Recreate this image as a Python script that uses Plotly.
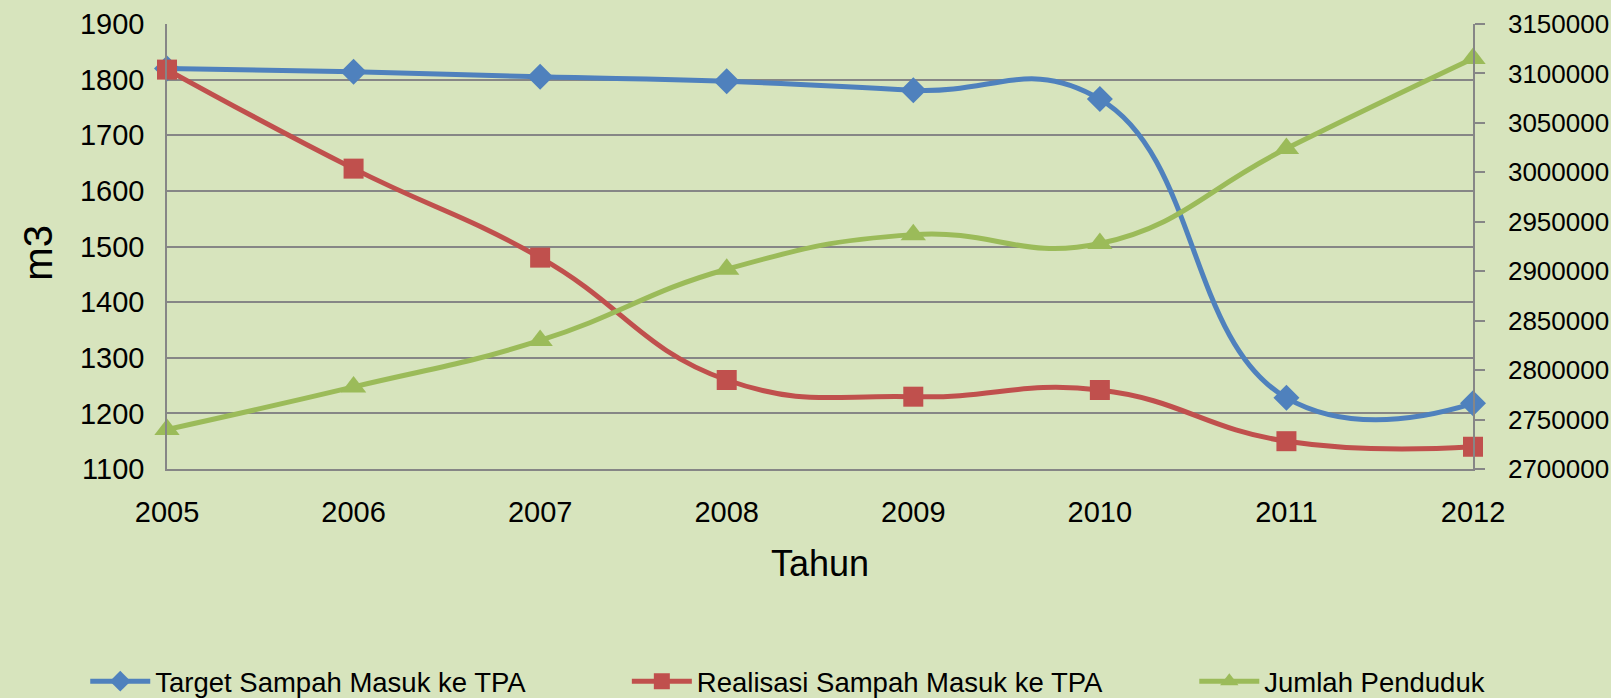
import plotly.graph_objects as go

years = [2005, 2006, 2007, 2008, 2009, 2010, 2011, 2012]
year_labels = [str(y) for y in years]
target = [1820, 1814, 1805, 1797, 1781, 1765, 1228, 1218]
realisasi = [1818, 1640, 1480, 1260, 1230, 1242, 1150, 1140]
penduduk = [2740000, 2783000, 2830000, 2902000, 2937000, 2928000, 3024000, 3115000]

BG = "#D7E4BD"
GRID = "#868686"
FONT = "Liberation Sans, Arial, sans-serif"

fig = go.Figure()
fig.add_trace(go.Scatter(
    x=years, y=target, name="Target Sampah Masuk ke TPA", mode="lines+markers",
    line=dict(color="#4F81BD", width=5, shape="spline", smoothing=1.3),
    marker=dict(symbol="diamond", size=20, color="#4F81BD"), cliponaxis=False,
    legend="legend"))
fig.add_trace(go.Scatter(
    x=years, y=realisasi, name="Realisasi Sampah Masuk ke TPA", mode="lines+markers",
    line=dict(color="#C0504D", width=5, shape="spline", smoothing=1.3),
    marker=dict(symbol="square", size=20, color="#C0504D"), cliponaxis=False,
    legend="legend2"))
fig.add_trace(go.Scatter(
    x=years, y=penduduk, name="Jumlah Penduduk", mode="lines+markers", yaxis="y2",
    line=dict(color="#9BBB59", width=5, shape="spline", smoothing=1.3),
    marker=dict(symbol="triangle-up", size=22, color="#9BBB59"), cliponaxis=False,
    legend="legend3"))

leg_common = dict(orientation="h", y=-0.477, yanchor="middle", xanchor="left",
                  font=dict(family=FONT, size=27.5), bgcolor="rgba(0,0,0,0)", itemwidth=60)

fig.update_layout(
    width=1611, height=698,
    margin=dict(l=167, r=138, t=24, b=229, autoexpand=False),
    paper_bgcolor=BG, plot_bgcolor=BG,
    font=dict(family=FONT, color="black", size=29),
    xaxis=dict(range=[2005, 2012], tickvals=years, ticktext=year_labels,
               showgrid=False, showline=True, linecolor=GRID, linewidth=1.5,
               ticks="", ticklabelstandoff=16, zeroline=False,
               tickfont=dict(size=29, family=FONT)),
    yaxis=dict(range=[1100, 1900], dtick=100, showgrid=True, gridcolor=GRID, gridwidth=1.5,
               showline=True, linecolor=GRID, linewidth=1.5, ticks="",
               ticklabelstandoff=15, zeroline=False, tickfont=dict(size=29, family=FONT)),
    yaxis2=dict(range=[2700000, 3150000], dtick=50000, overlaying="y", side="right",
                showgrid=False, showline=True, linecolor=GRID, linewidth=1.5,
                ticks="outside", ticklen=10, tickcolor=GRID, tickwidth=1.5,
                ticklabelstandoff=18, tickformat="d", zeroline=False,
                tickfont=dict(size=26, family=FONT)),
    showlegend=True,
    legend=dict(x=-0.0626, **leg_common),
    legend2=dict(x=0.3521, **leg_common),
    legend3=dict(x=0.7866, **leg_common),
    annotations=[
        dict(text="m3", xref="paper", yref="paper", x=-0.0985, y=0.487,
             xanchor="center", yanchor="middle", textangle=-90, showarrow=False,
             font=dict(size=40, family=FONT)),
        dict(text="Tahun", xref="paper", yref="paper", x=0.5, y=-0.212,
             xanchor="center", yanchor="middle", showarrow=False,
             font=dict(size=36, family=FONT)),
    ],
)

fig.write_html("out.html", config={"displayModeBar": False},
               post_script="document.body.style.margin='0';document.body.style.overflow='hidden';")
